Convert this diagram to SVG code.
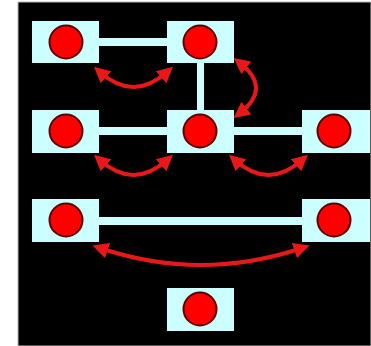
<svg xmlns="http://www.w3.org/2000/svg" width="371" height="346" viewBox="0 0 371 346">
  <style>
    .box { fill: #ccffff; }
    .dot { fill: #ff0000; stroke: #5a0000; stroke-width: 2; }
    .bar { fill: #ccffff; }
    .arc { fill: none; stroke: #e81818; stroke-width: 4; marker-start: url(#head); marker-end: url(#head); }
  </style>
  <defs>
    <marker id="head" viewBox="0 0 10 10" refX="5" refY="5" markerUnits="userSpaceOnUse" markerWidth="16" markerHeight="16" orient="auto-start-reverse">
      <path d="M0,0 L10,5 L0,10 z" fill="#e81818"/>
    </marker>
  </defs>

  <!-- page and dark panel -->
  <rect width="371" height="346" fill="#ffffff"/>
  <rect x="18" y="2" width="353" height="344" fill="#000000" stroke="#b8b8b8" stroke-width="1"/>

  <!-- links between cells -->
  <g id="connectors">
    <rect class="bar" x="98" y="38" width="70" height="8"/>
    <rect class="bar" x="197" y="62" width="7" height="49"/>
    <rect class="bar" x="98" y="127" width="70" height="8"/>
    <rect class="bar" x="233" y="127" width="70" height="8"/>
    <rect class="bar" x="98" y="217" width="205" height="8"/>
    <path class="arc" d="M100,72 Q133.5,102 167,72"/>
    <path class="arc" d="M100,160 Q133.5,190 167,160"/>
    <path class="arc" d="M235,160 Q268.5,190 302,160"/>
    <path class="arc" d="M100,248 Q201,282 302,248"/>
    <path class="arc" d="M240,63 Q272,88 240,113"/>
  </g>

  <g id="n1"><rect class="box" x="32" y="21" width="67" height="42"/><circle class="dot" cx="66" cy="42" r="16.5"/></g>
  <g id="n2"><rect class="box" x="167" y="21" width="67" height="42"/><circle class="dot" cx="200" cy="42" r="16.5"/></g>
  <g id="n3"><rect class="box" x="32" y="110" width="67" height="43"/><circle class="dot" cx="66" cy="131" r="16.5"/></g>
  <g id="n4"><rect class="box" x="167" y="110" width="67" height="43"/><circle class="dot" cx="200" cy="131" r="16.5"/></g>
  <g id="n5"><rect class="box" x="302" y="110" width="68" height="43"/><circle class="dot" cx="334" cy="131" r="16.5"/></g>
  <g id="n6"><rect class="box" x="32" y="199" width="67" height="43"/><circle class="dot" cx="66" cy="220" r="16.5"/></g>
  <g id="n7"><rect class="box" x="302" y="199" width="68" height="43"/><circle class="dot" cx="334" cy="220" r="16.5"/></g>
  <g id="n8"><rect class="box" x="167" y="288" width="67" height="43"/><circle class="dot" cx="200" cy="309" r="16.5"/></g>
</svg>
